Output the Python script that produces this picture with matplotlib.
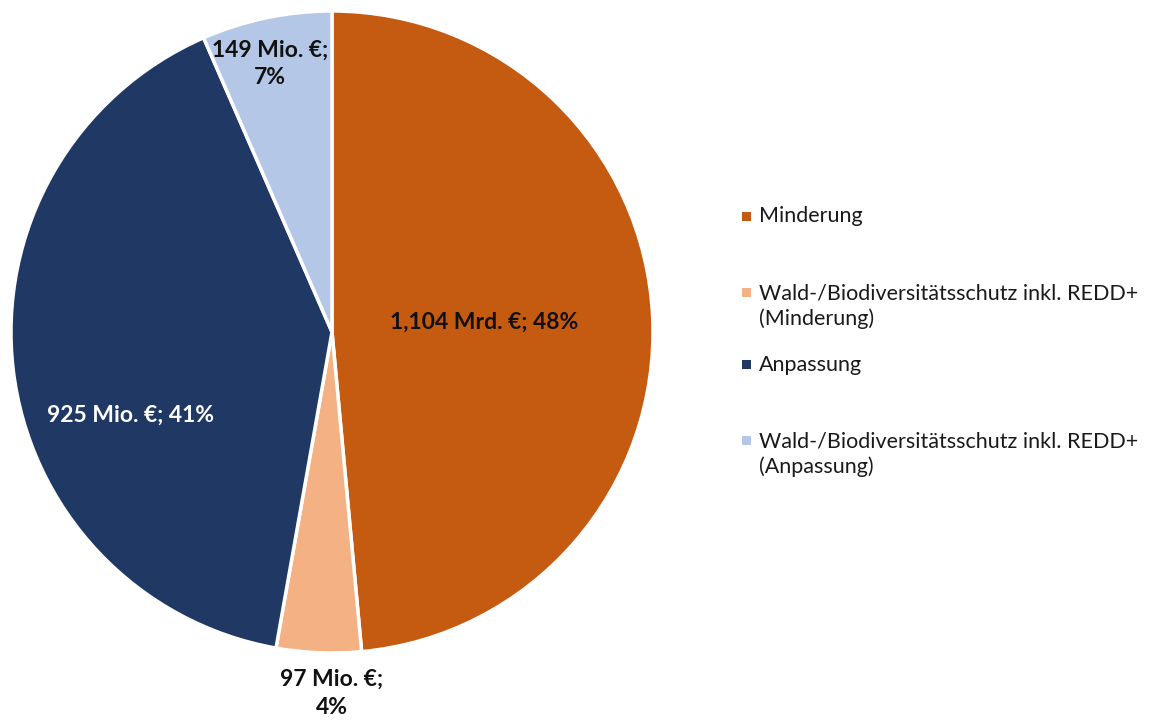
import numpy as np
import matplotlib.pyplot as plt
from matplotlib.patches import Rectangle

plt.rcParams['font.family'] = ['Lato', 'DejaVu Sans']

categories = ['Minderung',
              'Wald-/Biodiversitätsschutz inkl. REDD+\n(Minderung)',
              'Anpassung',
              'Wald-/Biodiversitätsschutz inkl. REDD+\n(Anpassung)']
values = [1104, 97, 925, 149]  # Mio. €
value_labels = ['1,104 Mrd. €; 48%', '97 Mio. €;\n4%', '925 Mio. €; 41%', '149 Mio. €;\n7%']
colors = ['#C55A11', '#F4B183', '#203864', '#B4C7E7']
label_colors = ['#111111', '#111111', '#FFFFFF', '#111111']
# label positions in units of the radius
label_pos = [(0.474, 0.031), (0.0, -1.125), (-0.629, -0.259), (-0.193, 0.835)]

fig = plt.figure(figsize=(11.5, 7.2), dpi=100)
ax = fig.add_axes([11 / 1150, 67 / 720, 642 / 1150, 642 / 720])
ax.pie(values, colors=colors, startangle=90, counterclock=False, radius=1,
       wedgeprops=dict(edgecolor='white', linewidth=2.5))
ax.set_xlim(-1, 1)
ax.set_ylim(-1, 1)
ax.set_aspect('equal')
ax.axis('off')

for txt, (x, y), c in zip(value_labels, label_pos, label_colors):
    ax.text(x, y, txt, ha='center', va='center', fontsize=16.5, fontweight='bold',
            color=c, linespacing=1.4, clip_on=False)

# legend (first-line y in pixels from top)
leg_y = [216, 292, 365, 440]
for cat, col, yy in zip(categories, colors, leg_y):
    nlines = cat.count('\n') + 1
    fy = 1 - yy / 720
    fig.patches.append(Rectangle((742 / 1150, fy - 4.5 / 720), 9 / 1150, 9 / 720,
                                 transform=fig.transFigure, facecolor=col,
                                 edgecolor='none'))
    fig.text(759 / 1150, 1 - (yy + 14 * (nlines - 1)) / 720, cat, ha='left',
             va='center', fontsize=15.5, color='#1a1a1a', linespacing=1.3)

fig.savefig('out.png', dpi=100)
